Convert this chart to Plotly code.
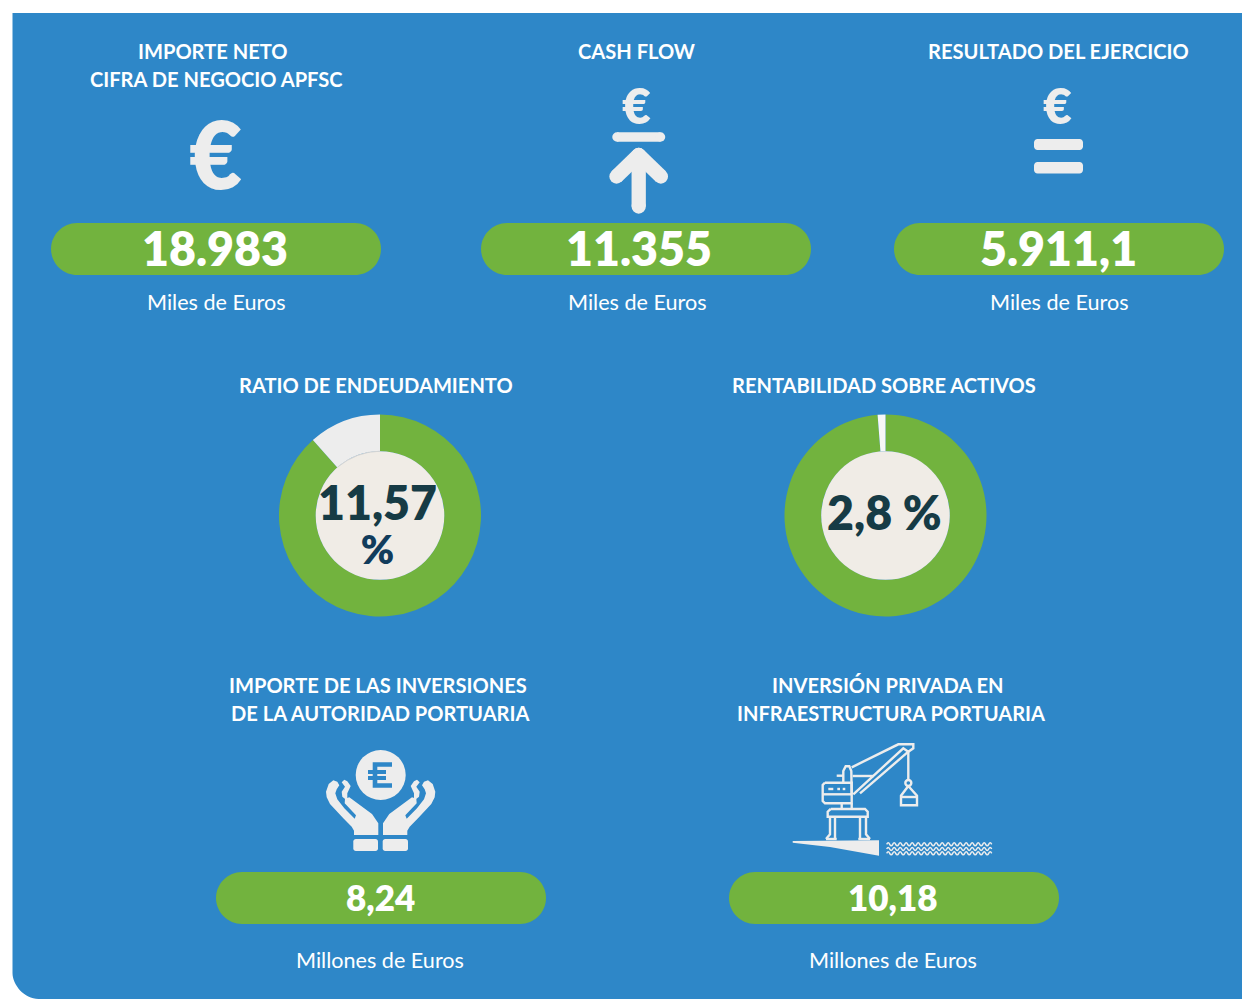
import plotly.graph_objects as go

# ---------- data ----------
top_titles = [["IMPORTE NETO", "CIFRA DE NEGOCIO APFSC"], ["CASH FLOW"], ["RESULTADO DEL EJERCICIO"]]
top_values = ["18.983", "11.355", "5.911,1"]
top_unit = "Miles de Euros"
ratio_titles = ["RATIO DE ENDEUDAMIENTO", "RENTABILIDAD SOBRE ACTIVOS"]
ratio_labels = [["11,57", "%"], ["2,8 %"]]
ratio_shown = [11.57, 1.25]
bottom_titles = [["IMPORTE DE LAS INVERSIONES", "DE LA AUTORIDAD PORTUARIA"],
                 ["INVERSIÓN PRIVADA EN", "INFRAESTRUCTURA PORTUARIA"]]
bottom_values = ["8,24", "10,18"]
bottom_unit = "Millones de Euros"

BLUE, GREEN, PALE, CREAM = "#2E87C8", "#72B33E", "#EDEDED", "#F0ECE6"
DARK, DARK2 = "#163B45", "#113C5C"
FONT = "Lato"
W, H = 1242, 999

fig = go.Figure()
shapes, notes = [], []


def rr(x0, y0, x1, y1, r=None):
    """Rounded rectangle path."""
    r = (min(x1 - x0, y1 - y0) / 2) if r is None else r
    k = r * 0.45
    return (f"M{x0+r},{y0} L{x1-r},{y0} C{x1-k},{y0} {x1},{y0+k} {x1},{y0+r} "
            f"L{x1},{y1-r} C{x1},{y1-k} {x1-k},{y1} {x1-r},{y1} "
            f"L{x0+r},{y1} C{x0+k},{y1} {x0},{y1-k} {x0},{y1-r} "
            f"L{x0},{y0+r} C{x0},{y0+k} {x0+k},{y0} {x0+r},{y0} Z")


def fill(path, color=PALE, layer="above"):
    shapes.append(dict(type="path", path=path, fillcolor=color, line=dict(width=0), layer=layer))


def stroke(path, color=PALE, w=1.7):
    shapes.append(dict(type="path", path=path, line=dict(color=color, width=w), layer="above"))


def capsule(x0, y0, x1, y1, w, color=PALE):
    stroke(f"M{x0},{y0} L{x1},{y1}", color, w)
    for x, y in ((x0, y0), (x1, y1)):
        shapes.append(dict(type="circle", x0=x - w / 2, x1=x + w / 2, y0=y - w / 2, y1=y + w / 2,
                           fillcolor=color, line=dict(width=0), layer="above"))


def text(x, y, s, size, color="white", weight=400):
    notes.append(dict(x=x, y=y, xref="x", yref="y", text=s, showarrow=False,
                      xanchor="center", yanchor="middle",
                      font=dict(family=FONT, size=size, color=color, weight=weight)))


# ---------- panel ----------
R = 26
shapes.append(dict(type="path", layer="below", fillcolor=BLUE, line=dict(width=0),
                   path=f"M12.5,13 L1260,13 L1260,1020 L{12.5+R},1020 L{12.5+R},999 "
                        f"C{12.5+R*0.45},999 12.5,{999-R*0.55} 12.5,{999-R} Z"))

# ---------- headline KPIs ----------
TS = 20.1
for cxs, title in zip([(213, 216), (636,), (1058.5,)], top_titles):
    for i, (cx, line) in enumerate(zip(cxs, title)):
        text(cx, 51 + i * 28, line, TS, weight=700)
for px, tx, ux, v in zip((51, 481, 894), (215, 639, 1058), (216, 637, 1059), top_values):
    fill(rr(px, 223, px + 330, 275), GREEN)
    text(tx, 248, v, 46.5, weight=800)
    text(ux, 302, top_unit, 21.6)

# ---------- euro glyphs ----------
text(215, 153, "€", 92, PALE, 800)
text(636, 105, "€", 50, PALE, 800)
text(1057, 105, "€", 50, PALE, 800)

# arrow icon
capsule(617, 137, 660.5, 137, 9.5)
capsule(638.7, 156, 638.7, 206.5, 14.3)
capsule(616.5, 176.5, 638.7, 155, 14.3)
capsule(660.9, 176.5, 638.7, 155, 14.3)

# equals icon
fill(rr(1034, 139, 1083, 150, 3.5))
fill(rr(1034, 162, 1083, 173.5, 3.5))

# ---------- donuts ----------
slice_colors = [PALE, "#F7F7F7"]
for cx, cy, title_x, title, val, col in zip((380, 885.5), (515.5, 515.5), (375.5, 884),
                                            ratio_titles, ratio_shown, slice_colors):
    r = 101
    fig.add_trace(go.Pie(values=[100 - val, val], labels=["Resto", title],
                         marker=dict(colors=[GREEN, col], line=dict(width=0)),
                         hole=0.636, sort=False, direction="clockwise", rotation=0,
                         textinfo="none", showlegend=False, hoverinfo="skip",
                         domain=dict(x=[(cx - r) / W, (cx + r) / W],
                                     y=[1 - (cy + r) / H, 1 - (cy - r) / H])))
    shapes.append(dict(type="circle", x0=cx - 64.3, x1=cx + 64.3, y0=cy - 64.3, y1=cy + 64.3,
                       fillcolor=CREAM, line=dict(width=0), layer="above"))
    text(title_x, 385, title, TS, weight=700)
# faint rim between the pale slice and the centre disc
stroke("M337.7,467 Q357,451.5 380,451.2", "#D4D4D4", 1)
notes.append(dict(x=377.5, y=523, xref="x", yref="y", showarrow=False, xanchor="center", yanchor="middle",
                  font=dict(family=FONT, size=34, color=DARK),
                  text=f"<span style='font-size:46.5px;font-weight:800;color:{DARK}'>{ratio_labels[0][0]}</span><br>"
                       f"<span style='font-size:40px;font-weight:800;color:{DARK2}'>{ratio_labels[0][1]}</span>"))
text(884, 512, ratio_labels[1][0], 46.5, DARK, 800)

# ---------- bottom KPIs ----------
for cxs, title in zip([(378, 380.5), (888, 891)], bottom_titles):
    for i, (cx, line) in enumerate(zip(cxs, title)):
        text(cx, 685 + i * 28, line, TS, weight=700)
for px, tx, v in zip((216, 729), (380, 893), bottom_values):
    fill(rr(px, 872, px + 330, 924), GREEN)
    text(tx, 897, v, 35, weight=800)
    text(tx, 959.5, bottom_unit, 21.6)


# ---------- hands icon ----------
def hz(pts, ox=310, oy=740, mirror=False):
    out = []
    for x, y in pts:
        if mirror:
            x = 424 - x
        out.append((ox + x / 3, oy + y / 3))
    return "M" + " L".join(f"{x:.1f},{y:.1f}" for x, y in out) + " Z"


shapes.append(dict(type="circle", x0=355.7, x1=405.7, y0=750, y1=800, fillcolor=PALE,
                   line=dict(width=0), layer="above"))
stroke("M392,764.5 L375,764.5 L375,785.5 L392,785.5", BLUE, 4.6)
stroke("M368,772 L386,772 M368,778 L386,778", BLUE, 4)
hand = [(70, 121), (56, 132), (48, 155), (50, 172), (60, 192), (100, 235), (125, 260), (132, 272), (132, 285),
        (205, 285), (205, 250), (186, 222), (118, 172), (105, 176), (104, 190), (138, 226), (134, 236),
        (103, 205), (82, 178), (76, 160), (80, 148), (88, 136), (82, 125)]
thumb = [(103, 119), (95, 127), (105, 140), (95, 155), (97, 170), (112, 182), (112, 160), (122, 138), (112, 124)]
for m in (False, True):
    fill(hz(hand, mirror=m))
    fill(hz(thumb, mirror=m))
fill(rr(353.3, 839, 378, 851, 2.5))
fill(rr(382.7, 839, 408, 851, 2.5))


# ---------- crane icon ----------
def cz(pts, close=False):
    s = "M" + " L".join(f"{780 + x / 3:.1f},{735 + y / 3:.1f}" for x, y in pts)
    return s + (" Z" if close else "")


CW = 2.4
crane_lines = [
    [(215, 97), (355, 28), (400, 28), (400, 40), (385, 50), (370, 40), (220, 178)],
    [(385, 50), (240, 175)],
    [(218, 123), (282, 123)],
    [(190, 145), (190, 108), (197, 94), (208, 94), (214, 108), (215, 178)],
    [(170, 122), (190, 122)],
    [(135, 143), (215, 143), (215, 205), (135, 205), (128, 198), (128, 150), (135, 143)],
    [(128, 178), (215, 178)],
    [(185, 205), (185, 222)],
    [(215, 205), (215, 222)],
    [(152, 222), (255, 222), (263, 230), (263, 245), (143, 245), (143, 230), (152, 222)],
    [(150, 245), (150, 298), (138, 312)],
    [(165, 245), (165, 312)],
    [(240, 245), (240, 312)],
    [(258, 245), (258, 298), (270, 312)],
    [(138, 312), (170, 312)],
    [(235, 312), (270, 312)],
    [(385, 50), (385, 135)],
    [(385, 153), (363, 182), (363, 211), (411, 211), (411, 182), (385, 153)],
    [(363, 186), (411, 186)],
]
for ln in crane_lines:
    stroke(cz(ln), PALE, CW)
stroke(cz([(145, 162), (160, 162)]), PALE, CW)
stroke(cz([(172, 162), (180, 162)]), PALE, CW)
stroke(cz([(188, 162), (196, 162)]), PALE, CW)
shapes.append(dict(type="circle", x0=780 + 376 / 3, x1=780 + 394 / 3, y0=735 + 135 / 3, y1=735 + 153 / 3,
                   line=dict(color=PALE, width=CW), layer="above"))
fill(cz([(38, 318), (297, 316), (297, 362), (150, 336), (38, 323)], True))
for wy in (328, 342, 355):
    seg = [f"M{780 + 320 / 3:.1f},{735 + wy / 3:.1f}"]
    x = 320
    up = True
    while x < 630:
        seg.append(f"Q{780 + (x + 4.5) / 3:.1f},{735 + (wy + (-9 if up else 9)) / 3:.1f} "
                   f"{780 + (x + 9) / 3:.1f},{735 + wy / 3:.1f}")
        x += 9
        up = not up
    stroke(" ".join(seg), PALE, 1.5)

fig.update_layout(
    width=W, height=H, autosize=False, margin=dict(l=0, r=0, t=0, b=0),
    paper_bgcolor="white", plot_bgcolor="rgba(0,0,0,0)", showlegend=False,
    xaxis=dict(range=[0, W], visible=False, fixedrange=True),
    yaxis=dict(range=[H, 0], visible=False, fixedrange=True),
    shapes=shapes, annotations=notes,
)
fig.write_html("out.html", config=dict(displayModeBar=False),
               post_script="document.body.style.margin='0';document.body.style.overflow='hidden';")
